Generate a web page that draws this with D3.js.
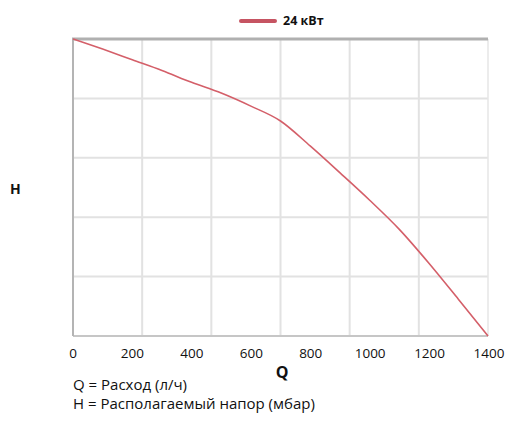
<html>
<head>
<meta charset="utf-8">
<script src="https://cdn.jsdelivr.net/npm/d3@7"></script>
<style>
  body { margin: 0; background: #fff; }
  text { font-family: "Open Sans", "Noto Sans", sans-serif; }
</style>
</head>
<body>
<div id="chart"></div>
<script>
// flow Q (l/h) and head H (grid units, no scale shown)
const qValues = [0, 100, 200, 300, 400, 500, 600, 700, 800, 900, 1000, 1100, 1200, 1300, 1400];
const hValues = [5.0, 4.83, 4.65, 4.47, 4.27, 4.09, 3.87, 3.62, 3.20, 2.75, 2.29, 1.80, 1.23, 0.62, 0];
const qTicks = [0, 200, 400, 600, 800, 1000, 1200, 1400];
const seriesName = "24 кВт";
const notes = ["Q = Расход (л/ч)", "H = Располагаемый напор (мбар)"];

const W = 507, H = 423;
const margin = {top: 39, right: 19, bottom: 87, left: 73};

const svg = d3.select("#chart").append("svg")
    .attr("width", W).attr("height", H);

const x = d3.scaleLinear().domain([0, 1400]).range([margin.left, W - margin.right]);
const y = d3.scaleLinear().domain([0, 5]).range([H - margin.bottom, margin.top]);

// grid: 6 columns, 5 rows
const gridQ = d3.range(1, 6).map(i => i * 1400 / 6);
svg.append("g").selectAll("line").data(gridQ).join("line")
    .attr("x1", d => x(d)).attr("x2", d => x(d))
    .attr("y1", y(5)).attr("y2", y(0))
    .attr("stroke", "#e2e2e2").attr("stroke-width", 2);
svg.append("g").selectAll("line").data([1, 2, 3, 4]).join("line")
    .attr("x1", x(0)).attr("x2", x(1400))
    .attr("y1", d => y(d)).attr("y2", d => y(d))
    .attr("stroke", "#e2e2e2").attr("stroke-width", 2);
svg.append("line")
    .attr("x1", x(1400)).attr("x2", x(1400)).attr("y1", y(5)).attr("y2", y(0))
    .attr("stroke", "#e6e6e6").attr("stroke-width", 1.5);

// frame
svg.append("line").attr("x1", x(0)).attr("x2", x(1400)).attr("y1", y(0)).attr("y2", y(0))
    .attr("stroke", "#c6c6c6").attr("stroke-width", 2);
svg.append("line").attr("x1", x(0)).attr("x2", x(0)).attr("y1", y(5)).attr("y2", y(0))
    .attr("stroke", "#b4b4b4").attr("stroke-width", 2);
svg.append("line").attr("x1", x(0) - 1).attr("x2", x(1400)).attr("y1", y(5)).attr("y2", y(5))
    .attr("stroke", "#b0b0b0").attr("stroke-width", 3);

// x axis labels
svg.append("g").selectAll("text").data(qTicks).join("text")
    .attr("x", d => margin.left + qTicks.indexOf(d) * (W - margin.right + 1 - margin.left) / (qTicks.length - 1))
    .attr("y", 358)
    .attr("text-anchor", "middle")
    .attr("font-size", 13.5)
    .attr("fill", "#111")
    .text(d => d);

// curve
const line = d3.line()
    .x((d, i) => x(qValues[i]))
    .y(d => y(d))
    .curve(d3.curveMonotoneX);
svg.append("path").datum(hValues)
    .attr("d", line)
    .attr("fill", "none")
    .attr("stroke", "#d45f69")
    .attr("stroke-width", 1.6);

// legend
svg.append("line").attr("x1", 241).attr("x2", 275).attr("y1", 21).attr("y2", 21)
    .attr("stroke", "#c65462").attr("stroke-width", 4).attr("stroke-linecap", "round");
svg.append("text").attr("x", 283).attr("y", 25)
    .attr("font-size", 12.5).attr("font-weight", "bold").attr("fill", "#111")
    .text(seriesName);

// axis titles
svg.append("text").attr("x", 10).attr("y", 194)
    .attr("font-size", 14).attr("font-weight", "bold").attr("fill", "#111").text("H");
svg.append("text").attr("x", 282).attr("y", 378).attr("text-anchor", "middle")
    .attr("font-size", 16).attr("font-weight", "bold").attr("fill", "#111").text("Q");

// notes
svg.append("g").selectAll("text").data(notes).join("text")
    .attr("x", 73).attr("y", (d, i) => 390 + i * 19)
    .attr("font-size", 15).attr("fill", "#111")
    .text(d => d);
</script>
</body>
</html>
